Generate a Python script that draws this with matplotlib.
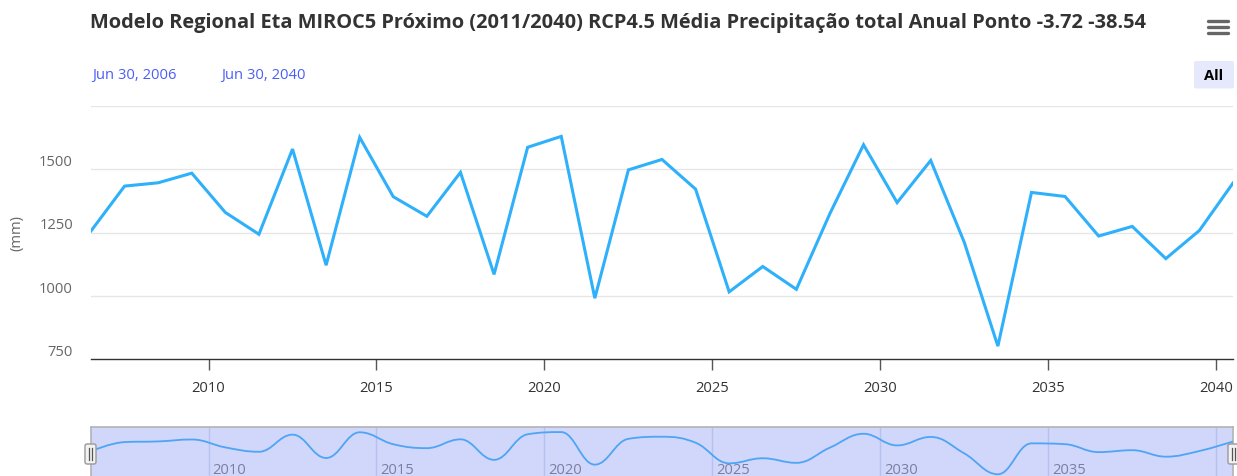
import matplotlib.pyplot as plt
import numpy as np
from matplotlib.path import Path
from matplotlib.patches import PathPatch, FancyBboxPatch

plt.rcParams['font.family'] = ['Open Sans', 'DejaVu Sans']

title = 'Modelo Regional Eta MIROC5 Próximo (2011/2040) RCP4.5 Média Precipitação total Anual Ponto -3.72 -38.54'
years = np.arange(2006, 2041) + 0.5  # points sit on Jun 30 of each year
precip = [1256, 1433, 1446, 1484, 1329, 1243, 1579, 1121, 1625, 1391,
          1314, 1487, 1085, 1586, 1629, 991, 1497, 1538, 1421, 1016,
          1116, 1026, 1325, 1596, 1368, 1534, 1211, 802, 1408, 1392,
          1236, 1274, 1147, 1258, 1445]
y_ticks = [750, 1000, 1250, 1500]
x_ticks = [2010, 2015, 2020, 2025, 2030, 2035, 2040]
range_from = 'Jun 30, 2006'
range_to = 'Jun 30, 2040'

W, H = 1237, 477
fig = plt.figure(figsize=(W / 100, H / 100), dpi=100)


def box(l, t, r, b):
    return [l / W, 1 - b / H, (r - l) / W, (b - t) / H]


def spline_path(xs, ys, smoothing=1.5):
    # highcharts-style spline, built as cubic bezier segments
    n = len(xs)
    lc, rc = [None] * n, [None] * n
    d = smoothing + 1
    for i in range(1, n - 1):
        px, py = xs[i], ys[i]
        lx, ly = xs[i - 1], ys[i - 1]
        nx, ny = xs[i + 1], ys[i + 1]
        lcx, lcy = (smoothing * px + lx) / d, (smoothing * py + ly) / d
        rcx, rcy = (smoothing * px + nx) / d, (smoothing * py + ny) / d
        corr = (rcy - lcy) * (rcx - px) / (rcx - lcx) + py - rcy
        lcy += corr
        rcy += corr
        if lcy > ly and lcy > py:
            lcy = max(ly, py); rcy = 2 * py - lcy
        elif lcy < ly and lcy < py:
            lcy = min(ly, py); rcy = 2 * py - lcy
        if rcy > ny and rcy > py:
            rcy = max(ny, py); lcy = 2 * py - rcy
        elif rcy < ny and rcy < py:
            rcy = min(ny, py); lcy = 2 * py - rcy
        lc[i], rc[i] = (lcx, lcy), (rcx, rcy)
    verts, codes = [(xs[0], ys[0])], [Path.MOVETO]
    for i in range(1, n):
        c1 = rc[i - 1] or (xs[i - 1], ys[i - 1])
        c2 = lc[i] or (xs[i], ys[i])
        verts += [c1, c2, (xs[i], ys[i])]
        codes += [Path.CURVE4] * 3
    return Path(verts, codes)


# main chart
ax = fig.add_axes(box(91, 106.7, 1233, 360.3))
ax.set_xlim(2006.5, 2040.5)
ax.set_ylim(750, 1750)
for v in [1000, 1250, 1500, 1750]:
    ax.axhline(v, color='#e6e6e6', lw=1, zorder=0)
ax.plot(years, precip, color='#2eb0fb', lw=2.2, solid_joinstyle='miter', zorder=3)
for s in ['top', 'left', 'right']:
    ax.spines[s].set_visible(False)
ax.spines['bottom'].set_color('#333333')
ax.spines['bottom'].set_linewidth(1)
ax.set_xticks(x_ticks)
ax.set_xticklabels([str(x) for x in x_ticks])
ax.tick_params(axis='x', length=8, width=1, color='#555555', pad=7,
               labelsize=10.6, labelcolor='#333333')
ax.set_yticks(y_ticks)
ax.set_yticklabels([str(v) for v in y_ticks], va='bottom')
ax.tick_params(axis='y', length=0, pad=13, labelsize=10.6, labelcolor='#666666')
ax.patch.set_visible(False)

# navigator
nav = fig.add_axes(box(91, 428.3, 1233, 477))
nav.set_xlim(2006.5, 2040.5)
nav.set_ylim(768, 1723)
nav.set_facecolor('#d0d7fa')
for s in ['top', 'left', 'right']:
    nav.spines[s].set_color('#b3b3b3')
    nav.spines[s].set_linewidth(1.2)
nav.spines['bottom'].set_visible(False)
nav.set_xticks([])
nav.set_yticks([])
for x in x_ticks:
    nav.axvline(x, color='#b7c1ee', lw=1, zorder=1)
    if x < 2040:  # last label overflows and is hidden in the original
        nav.text(x + 0.12, 0.13, str(x), transform=nav.get_xaxis_transform(),
                 fontsize=10.6, color='#7b7e9e', va='center', ha='left')
nav.add_patch(PathPatch(spline_path(list(years), precip), facecolor='none',
                        edgecolor='#4ea4f5', lw=1.3, zorder=3))

# overlay in pixel coordinates
ov = fig.add_axes([0, 0, 1, 1])
ov.set_xlim(0, W)
ov.set_ylim(H, 0)
ov.axis('off')
ov.patch.set_visible(False)

ov.text(618, 23, title, ha='center', va='center', fontsize=14.4,
        fontweight='bold', color='#333333')

# hamburger
for yy in [21.7, 27.7, 33.7]:
    ov.plot([1207.5, 1227.5], [yy, yy], color='#666666', lw=2.4,
            solid_capstyle='round')

# range selector
ov.text(92, 75, range_from, ha='left', va='center', fontsize=10.6, color='#4b5ef2')
ov.text(221, 75, range_to, ha='left', va='center', fontsize=10.6, color='#4b5ef2')
ov.add_patch(FancyBboxPatch((1194, 62), 40, 27.5, boxstyle='round,pad=0,rounding_size=2',
                            facecolor='#e6e9fb', edgecolor='none'))
ov.text(1214, 76, 'All', ha='center', va='center', fontsize=10.6,
        fontweight='bold', color='#000000')

ov.text(17, 233, '(mm)', rotation=90, ha='center', va='center',
        fontsize=10.6, color='#666666')

# navigator handles
for hx in [85, 1228]:
    ov.add_patch(FancyBboxPatch((hx, 445), 11, 20, boxstyle='round,pad=0,rounding_size=2',
                                facecolor='#f2f2f2', edgecolor='#999999', lw=1))
    for lx in [hx + 4, hx + 7]:
        ov.plot([lx, lx], [449, 461], color='#555555', lw=0.9)

fig.savefig('out.png', dpi=100)
